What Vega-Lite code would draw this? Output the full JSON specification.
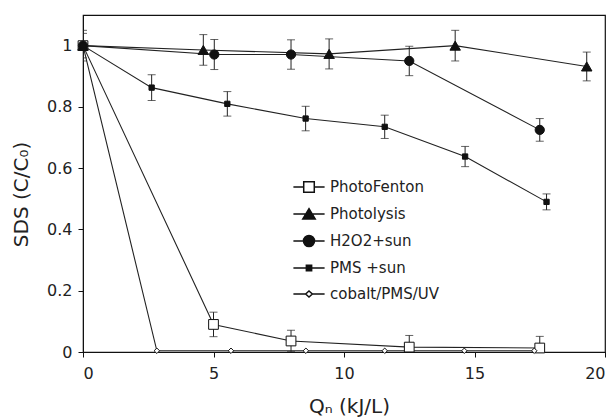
{
  "$schema": "https://vega.github.io/schema/vega-lite/v6.json",
  "width": 522,
  "height": 337,
  "autosize": {"type": "none"},
  "padding": {"left": 83, "top": 15, "right": 10, "bottom": 65},
  "background": "white",
  "config": {
    "font": "DejaVu Sans",
    "view": {"stroke": "#111", "strokeWidth": 1.2},
    "axis": {
      "grid": false,
      "domainColor": "#111",
      "tickColor": "#111",
      "labelColor": "#222",
      "titleColor": "#222",
      "labelFontSize": 16,
      "titleFontSize": 20,
      "titleFontWeight": "normal",
      "tickSize": 5,
      "labelFont": "DejaVu Sans",
      "titleFont": "DejaVu Sans"
    }
  },
  "data": {
    "values": [
      {"series": "PhotoFenton", "x": 0, "y": 1},
      {"series": "PhotoFenton", "x": 5.0, "y": 0.09, "err": 0.04},
      {"series": "PhotoFenton", "x": 7.97, "y": 0.036, "err": 0.035},
      {"series": "PhotoFenton", "x": 12.5, "y": 0.016, "err": 0.038},
      {"series": "PhotoFenton", "x": 17.5, "y": 0.013, "err": 0.038},
      {"series": "Photolysis", "x": 0, "y": 1, "err": 0.05},
      {"series": "Photolysis", "x": 4.61, "y": 0.986, "err": 0.05},
      {"series": "Photolysis", "x": 9.43, "y": 0.973, "err": 0.049},
      {"series": "Photolysis", "x": 14.26, "y": 1.0, "err": 0.05},
      {"series": "Photolysis", "x": 19.3, "y": 0.932, "err": 0.047},
      {"series": "H2O2+sun", "x": 0, "y": 1, "err": 0.04},
      {"series": "H2O2+sun", "x": 5.03, "y": 0.971, "err": 0.049},
      {"series": "H2O2+sun", "x": 7.97, "y": 0.971, "err": 0.048},
      {"series": "H2O2+sun", "x": 12.5, "y": 0.95, "err": 0.048},
      {"series": "H2O2+sun", "x": 17.5, "y": 0.725, "err": 0.037},
      {"series": "PMS +sun", "x": 0, "y": 1},
      {"series": "PMS +sun", "x": 2.63, "y": 0.863, "err": 0.042},
      {"series": "PMS +sun", "x": 5.53, "y": 0.81, "err": 0.04},
      {"series": "PMS +sun", "x": 8.53, "y": 0.762, "err": 0.04},
      {"series": "PMS +sun", "x": 11.56, "y": 0.735, "err": 0.038},
      {"series": "PMS +sun", "x": 14.64, "y": 0.638, "err": 0.033},
      {"series": "PMS +sun", "x": 17.76, "y": 0.49, "err": 0.026},
      {"series": "cobalt/PMS/UV", "x": 0, "y": 1},
      {"series": "cobalt/PMS/UV", "x": 2.83, "y": 0.004},
      {"series": "cobalt/PMS/UV", "x": 5.67, "y": 0.004},
      {"series": "cobalt/PMS/UV", "x": 8.54, "y": 0.004},
      {"series": "cobalt/PMS/UV", "x": 11.56, "y": 0.004},
      {"series": "cobalt/PMS/UV", "x": 14.61, "y": 0.004},
      {"series": "cobalt/PMS/UV", "x": 17.29, "y": 0.004}
    ]
  },
  "encoding": {
    "x": {"field": "x", "type": "quantitative", "scale": {"domain": [0, 20], "nice": false},
      "axis": {"values": [0, 5, 10, 15, 20], "title": "Qₙ (kJ/L)", "titleX": 266, "titleY": 54, "titleBaseline": "middle", "labelPadding": 8}},
    "y": {"field": "y", "type": "quantitative", "scale": {"domain": [0, 1.1], "nice": false},
      "axis": {"values": [0, 0.2, 0.4, 0.6, 0.8, 1], "format": "~g", "title": "SDS (C/C₀)", "titleX": -62, "titleY": 179, "titleAngle": -90, "titleBaseline": "middle", "titleAlign": "center", "labelPadding": 6}}
  },
  "layer": [
    {
      "mark": {"type": "line", "color": "#222", "strokeWidth": 1.1},
      "encoding": {"detail": {"field": "series", "type": "nominal"}}
    },
    {
      "transform": [{"filter": "isValid(datum.err)"}],
      "mark": {"type": "errorbar", "ticks": {"size": 8, "color": "#222"}, "color": "#222", "clip": true},
      "encoding": {
        "y": {"field": "y", "type": "quantitative", "title": "SDS (C/C₀)"},
        "yError": {"field": "err"}
      }
    },
    {
      "transform": [{"filter": "datum.series == 'PhotoFenton'"}],
      "mark": {"type": "point", "shape": "square", "size": 95, "fill": "white", "stroke": "#111", "strokeWidth": 1, "opacity": 1},
      "encoding": {}
    },
    {
      "transform": [{"filter": "datum.series == 'cobalt/PMS/UV'"}],
      "mark": {"type": "point", "shape": "diamond", "size": 30, "fill": "white", "stroke": "#111", "strokeWidth": 1, "opacity": 1},
      "encoding": {}
    },
    {
      "transform": [{"filter": "datum.series == 'Photolysis'"}],
      "mark": {"type": "point", "shape": "triangle-up", "size": 110, "fill": "#111", "stroke": "#111", "strokeWidth": 1, "opacity": 1},
      "encoding": {}
    },
    {
      "transform": [{"filter": "datum.series == 'H2O2+sun'"}],
      "mark": {"type": "point", "shape": "circle", "size": 85, "fill": "#111", "stroke": "#111", "strokeWidth": 1, "opacity": 1},
      "encoding": {}
    },
    {
      "transform": [{"filter": "datum.series == 'PMS +sun'"}],
      "mark": {"type": "point", "shape": "square", "size": 28, "fill": "#111", "stroke": "#111", "strokeWidth": 1, "opacity": 1},
      "encoding": {}
    },
    {
      "transform": [{"filter": "false"}],
      "mark": {"type": "point", "color": "#111", "strokeWidth": 1.1, "opacity": 1, "size": 576},
      "encoding": {
        "shape": {"field": "series", "type": "nominal",
          "scale": {"domain": ["PhotoFenton", "Photolysis", "H2O2+sun", "PMS +sun", "cobalt/PMS/UV"],
            "range": [
              "M-1.3,0H-0.44M0.44,0H1.3M-0.44,-0.44H0.44V0.44H-0.44Z",
              "M-1.3,0H1.3M0,-0.45L0.52,0.42H-0.52Z",
              "M-1.3,0H1.3M0.46,0A0.46,0.46,0,1,1,-0.46,0A0.46,0.46,0,1,1,0.46,0Z",
              "M-1.3,0H1.3M-0.22,-0.22H0.22V0.22H-0.22Z",
              "M-1.3,0H-0.28M0.28,0H1.3M-0.28,0L0,-0.25L0.28,0L0,0.25Z"
            ]},
          "legend": {"orient": "none", "legendX": 213, "legendY": 159, "title": null, "labelFontSize": 15, "labelColor": "#222", "labelFont": "DejaVu Sans", "symbolSize": 576, "labelOffset": 8, "rowPadding": 5,
            "encode": {"symbols": {"update": {"stroke": {"value": "#111"}, "strokeWidth": {"value": 1.1}, "opacity": {"value": 1}}}}}},
        "fill": {"field": "series", "type": "nominal",
          "scale": {"domain": ["PhotoFenton", "Photolysis", "H2O2+sun", "PMS +sun", "cobalt/PMS/UV"], "range": ["white", "#111", "#111", "#111", "white"]},
          "legend": {"orient": "none", "legendX": 213, "legendY": 159, "title": null, "labelFontSize": 15, "labelColor": "#222", "labelFont": "DejaVu Sans", "symbolSize": 576, "labelOffset": 8, "rowPadding": 5,
            "encode": {"symbols": {"update": {"stroke": {"value": "#111"}, "strokeWidth": {"value": 1.1}, "opacity": {"value": 1}}}}}}
      }
    }
  ]
}
